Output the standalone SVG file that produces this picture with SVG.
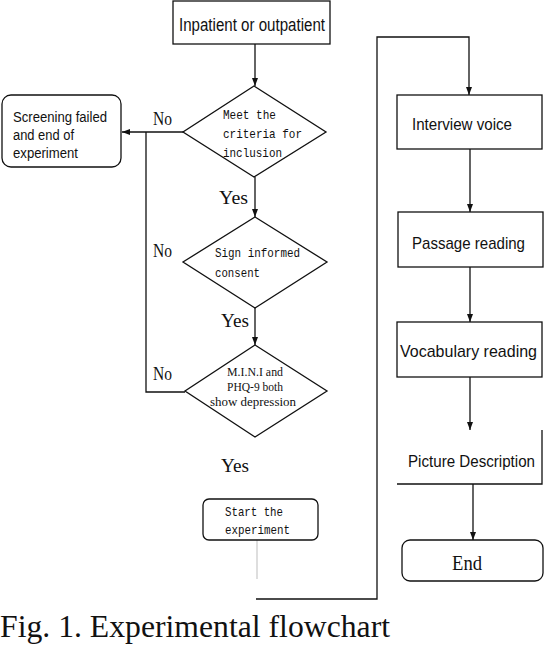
<svg xmlns="http://www.w3.org/2000/svg" width="544" height="646" viewBox="0 0 544 646">
<style>
.box{fill:#fff;stroke:#111;stroke-width:1.3}
.ln{fill:none;stroke:#111;stroke-width:1.3}
.sans{font-family:"Liberation Sans",Arial,sans-serif;fill:#111}
.mono{font-family:"Liberation Mono","Courier New",monospace;font-size:13px;fill:#111}
.serif{font-family:"Liberation Serif","Times New Roman",serif;fill:#111}
.lbl{font-family:"Liberation Serif","Times New Roman",serif;font-size:19px;fill:#111}
</style>
<defs>
<marker id="ah" viewBox="0 0 8 8" refX="8" refY="4" markerWidth="8" markerHeight="8" markerUnits="userSpaceOnUse" orient="auto">
<path d="M0,1 L8,4 L0,7 Z" fill="#111"/>
</marker>
</defs>
<rect width="544" height="646" fill="#fff"/>
<g id="connectors">
<line class="ln" x1="255" y1="44" x2="255" y2="86" marker-end="url(#ah)"/>
<line class="ln" x1="183" y1="132" x2="122" y2="132" marker-end="url(#ah)"/>
<polyline class="ln" points="146,132 146,392 185,392"/>
<line class="ln" x1="255" y1="177" x2="255" y2="217" marker-end="url(#ah)"/>
<line class="ln" x1="255" y1="308" x2="255" y2="345" marker-end="url(#ah)"/>
<line x1="257" y1="540" x2="257" y2="579" stroke="#c8c8c8" stroke-width="1.2"/>
<polyline class="ln" points="256,599 377,599 377,37 469,37 469,95" marker-end="url(#ah)"/>
<line class="ln" x1="470" y1="149" x2="470" y2="212" marker-end="url(#ah)"/>
<line class="ln" x1="470" y1="267" x2="470" y2="322" marker-end="url(#ah)"/>
<line class="ln" x1="470" y1="377" x2="470" y2="430" marker-end="url(#ah)"/>
<line class="ln" x1="473" y1="484" x2="473" y2="540" marker-end="url(#ah)"/>
<text class="lbl" x="153" y="125" textLength="19" lengthAdjust="spacingAndGlyphs">No</text>
<text class="lbl" x="153" y="257" textLength="19" lengthAdjust="spacingAndGlyphs">No</text>
<text class="lbl" x="153" y="380" textLength="19" lengthAdjust="spacingAndGlyphs">No</text>
<text class="lbl" x="219" y="204" textLength="29" lengthAdjust="spacingAndGlyphs">Yes</text>
<text class="lbl" x="221" y="327" textLength="28" lengthAdjust="spacingAndGlyphs">Yes</text>
<text class="lbl" x="221" y="472" textLength="28" lengthAdjust="spacingAndGlyphs">Yes</text>
</g>
<g id="inpatient">
<rect class="box" x="173" y="1" width="157" height="43"/>
<text class="sans" x="179" y="31" font-size="17.5" textLength="146" lengthAdjust="spacingAndGlyphs">Inpatient or outpatient</text>
</g>
<g id="screening-failed">
<rect class="box" x="2" y="95" width="119" height="72" rx="9"/>
<text class="sans" font-size="14" x="13" y="122" textLength="94" lengthAdjust="spacingAndGlyphs">Screening failed</text>
<text class="sans" font-size="14" x="13" y="140" textLength="61" lengthAdjust="spacingAndGlyphs">and end of</text>
<text class="sans" font-size="14" x="13" y="158" textLength="65" lengthAdjust="spacingAndGlyphs">experiment</text>
</g>
<g id="criteria">
<polygon class="box" points="254,86 326,132 254,177 183,132"/>
<text class="mono" x="223" y="119" textLength="53" lengthAdjust="spacingAndGlyphs">Meet the</text>
<text class="mono" x="223" y="138" textLength="79" lengthAdjust="spacingAndGlyphs">criteria for</text>
<text class="mono" x="223" y="157" textLength="59" lengthAdjust="spacingAndGlyphs">inclusion</text>
</g>
<g id="consent">
<polygon class="box" points="255,217 327,262 255,308 183,262"/>
<text class="mono" x="215" y="257" textLength="85" lengthAdjust="spacingAndGlyphs">Sign informed</text>
<text class="mono" x="215" y="277" textLength="45" lengthAdjust="spacingAndGlyphs">consent</text>
</g>
<g id="depression">
<polygon class="box" points="255,345 327,391 255,437 185,391"/>
<text class="serif" font-size="13" x="255" y="376" text-anchor="middle" textLength="56" lengthAdjust="spacingAndGlyphs">M.I.N.I and</text>
<text class="serif" font-size="13" x="255" y="391" text-anchor="middle" textLength="56" lengthAdjust="spacingAndGlyphs">PHQ-9 both</text>
<text class="serif" font-size="13" x="253" y="406" text-anchor="middle" textLength="86" lengthAdjust="spacingAndGlyphs">show depression</text>
</g>
<g id="start">
<rect class="box" x="203" y="499" width="115" height="41" rx="6"/>
<text class="mono" x="225" y="516" textLength="58" lengthAdjust="spacingAndGlyphs">Start the</text>
<text class="mono" x="225" y="534" textLength="65" lengthAdjust="spacingAndGlyphs">experiment</text>
</g>
<g id="interview">
<rect class="box" x="397" y="95" width="145" height="54"/>
<text class="sans" font-size="17" x="412" y="130" textLength="100" lengthAdjust="spacingAndGlyphs">Interview voice</text>
</g>
<g id="passage">
<rect class="box" x="398" y="212" width="145" height="55"/>
<text class="sans" font-size="17" x="412" y="249" textLength="113" lengthAdjust="spacingAndGlyphs">Passage reading</text>
</g>
<g id="vocabulary">
<rect class="box" x="397" y="322" width="145" height="55"/>
<text class="sans" font-size="17" x="400" y="357" textLength="137" lengthAdjust="spacingAndGlyphs">Vocabulary reading</text>
</g>
<g id="picture">
<polyline class="ln" points="542,430 542,484 397,484"/>
<text class="sans" font-size="17" x="408" y="467" textLength="127" lengthAdjust="spacingAndGlyphs">Picture Description</text>
</g>
<g id="end">
<rect class="box" x="402" y="540" width="141" height="41" rx="8"/>
<text class="serif" font-size="21" x="452" y="570" textLength="30" lengthAdjust="spacingAndGlyphs">End</text>
</g>
<text class="serif" font-size="31" x="0" y="637" textLength="390" lengthAdjust="spacingAndGlyphs">Fig. 1. Experimental flowchart</text>
</svg>
